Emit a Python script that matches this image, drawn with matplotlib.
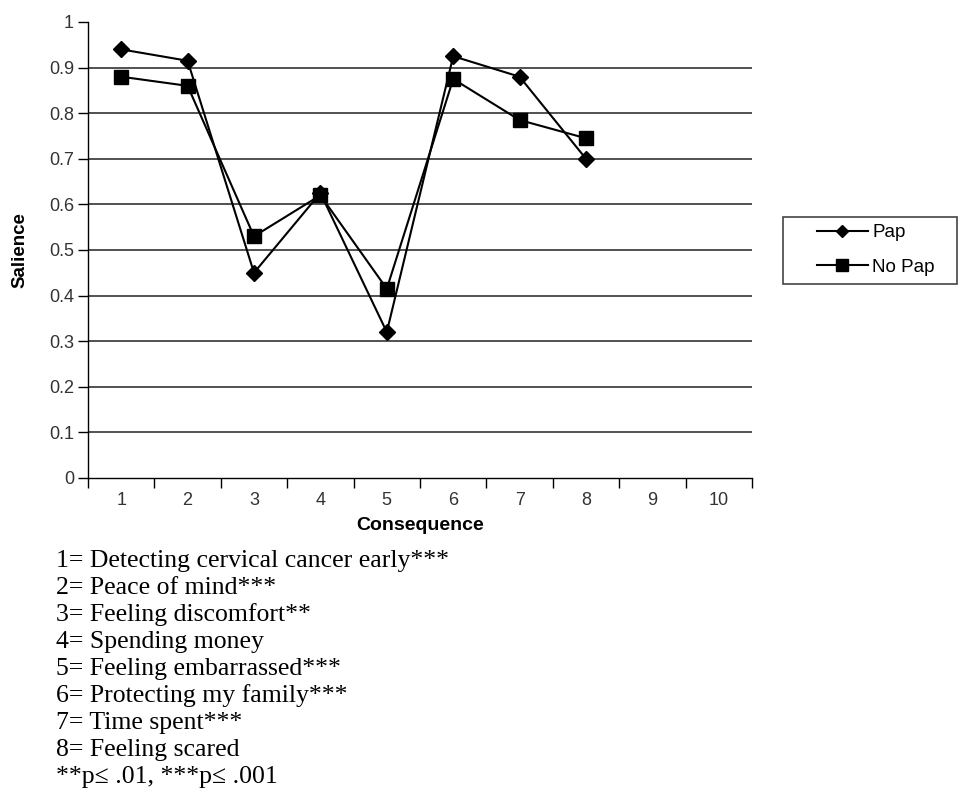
import numpy as np
import matplotlib.pyplot as plt
from matplotlib.patches import Rectangle

# data
consequence = [1, 2, 3, 4, 5, 6, 7, 8]
pap = [0.94, 0.915, 0.45, 0.625, 0.32, 0.925, 0.88, 0.70]
no_pap = [0.88, 0.86, 0.53, 0.62, 0.415, 0.875, 0.785, 0.745]
x_ticks = [1, 2, 3, 4, 5, 6, 7, 8, 9, 10]
y_ticks = [0, 0.1, 0.2, 0.3, 0.4, 0.5, 0.6, 0.7, 0.8, 0.9, 1]
y_labels = ["0", "0.1", "0.2", "0.3", "0.4", "0.5", "0.6", "0.7", "0.8", "0.9", "1"]
notes = [
    "1= Detecting cervical cancer early***",
    "2= Peace of mind***",
    "3= Feeling discomfort**",
    "4= Spending money",
    "5= Feeling embarrassed***",
    "6= Protecting my family***",
    "7= Time spent***",
    "8= Feeling scared",
    "**p\u2264 .01, ***p\u2264 .001",
]

plt.rcParams['font.family'] = ['Liberation Sans', 'DejaVu Sans']

W, H = 959, 808
fig = plt.figure(figsize=(W / 100, H / 100), dpi=100)
ax = fig.add_axes([88 / W, 1 - 478 / H, 664 / W, 456 / H])

# grid lines like the excel chart
for yv in y_ticks[1:-1]:
    ax.axhline(yv, color='#333333', lw=1.2, zorder=1)

ax.plot(consequence, pap, color='black', lw=1.5, marker='D', ms=8,
        label='Pap', zorder=3)
ax.plot(consequence, no_pap, color='black', lw=1.5, marker='s', ms=10,
        label='No Pap', zorder=3)

ax.set_xlim(0.5, 10.5)
ax.set_ylim(0, 1)
ax.set_yticks(y_ticks)
ax.set_yticklabels(y_labels, fontsize=13, color='#333333')

# x ticks sit between categories, labels at the centres
ax.set_xticks(np.arange(0.5, 11, 1))
ax.set_xticklabels([])
ax.set_xticks(x_ticks, minor=True)
ax.set_xticklabels([str(v) for v in x_ticks], minor=True, fontsize=13,
                   color='#333333')
ax.tick_params(axis='x', which='minor', length=0, pad=10)
ax.tick_params(axis='x', which='major', length=7, width=1, direction='out')
ax.tick_params(axis='y', length=7, width=1, direction='out', pad=3)

for s in ['top', 'right']:
    ax.spines[s].set_visible(False)
ax.spines['left'].set_linewidth(1)
ax.spines['bottom'].set_linewidth(1)

ax.set_xlabel('Consequence', fontsize=14, fontweight='bold', labelpad=6)
ax.set_ylabel('Salience', fontsize=13.5, fontweight='bold', labelpad=15)

# legend box: frame drawn separately, entries inset from the left
fig.patches.append(Rectangle((783 / W, 1 - 284 / H), 174 / W, 67 / H,
                             transform=fig.transFigure, fill=False,
                             edgecolor='#444444', lw=1.2))
leg = ax.legend(loc='center left', bbox_to_anchor=(1.098, 0.50), frameon=False,
                fontsize=13.5, handlelength=2.7, borderpad=0, labelspacing=0.95,
                handletextpad=0.25, borderaxespad=0, markerscale=0.8)

# footnote text block under the chart
for i, line in enumerate(notes):
    fig.text(56 / W, 1 - (567 + i * 27) / H, line, fontsize=18.5,
             family='Liberation Serif', va='baseline', ha='left')

fig.savefig('out.png', dpi=100)
